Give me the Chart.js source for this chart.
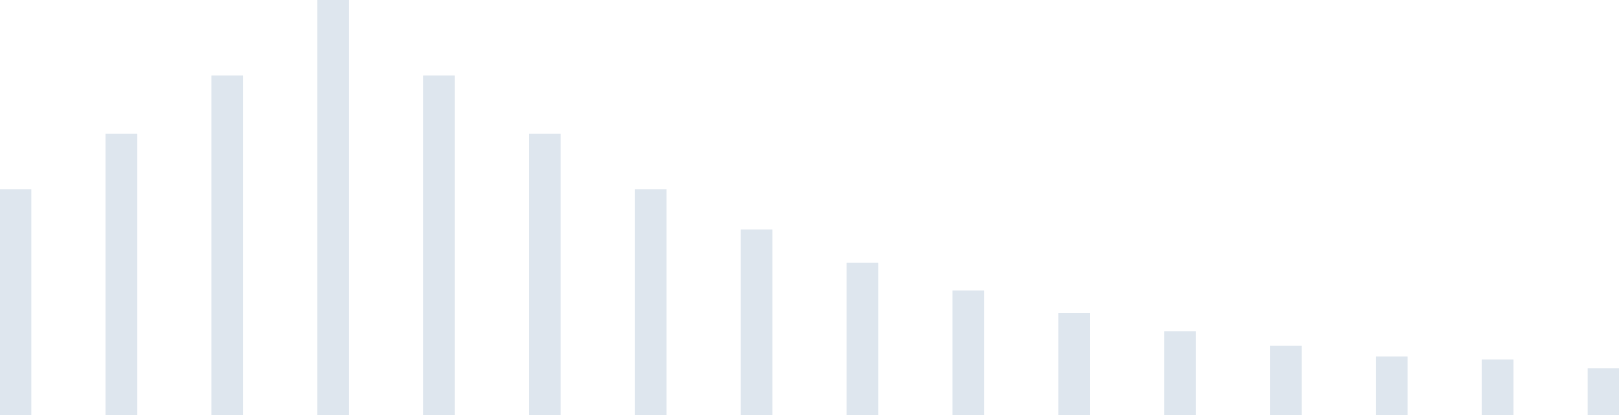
<!DOCTYPE html>
<html>
<head>
<meta charset="utf-8">
<script src="https://cdn.jsdelivr.net/npm/chart.js@4"></script>
<style>
  html, body { margin: 0; padding: 0; background: #ffffff; }
  #wrap { width: 1619px; height: 415px; position: relative; }
</style>
</head>
<body>
<div id="wrap"><canvas id="chart"></canvas></div>
<script>
// bar categories and values (max = 100)
const categories = ['1', '2', '3', '4', '5', '6', '7', '8', '9', '10', '11', '12', '13', '14', '15', '16'];
const values = [54.3, 67.7, 81.7, 100, 81.7, 67.7, 54.3, 44.6, 36.6, 29.9, 24.5, 20.1, 16.6, 14.0, 13.3, 11.2];
const yMin = 0;
const yMax = 100;

const ctx = document.getElementById('chart').getContext('2d');

new Chart(ctx, {
  type: 'bar',
  data: {
    labels: categories,
    datasets: [{
      data: values,
      backgroundColor: 'rgb(222, 230, 238)',
      borderWidth: 0,
      barThickness: 31,
      clip: false
    }]
  },
  options: {
    responsive: true,
    maintainAspectRatio: false,
    animation: false,
    layout: {
      padding: { left: 15.5, right: 15.5, top: 0, bottom: 0 }
    },
    plugins: {
      legend: { display: false },
      tooltip: { enabled: false }
    },
    scales: {
      x: {
        display: false,
        offset: false,
        grid: { display: false }
      },
      y: {
        display: false,
        min: yMin,
        max: yMax,
        grid: { display: false }
      }
    }
  }
});
</script>
</body>
</html>
